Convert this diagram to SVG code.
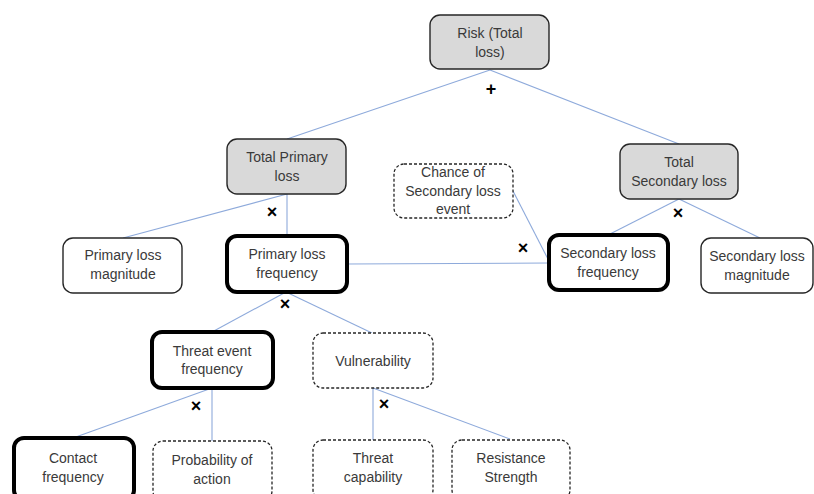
<svg xmlns="http://www.w3.org/2000/svg" width="814" height="494" viewBox="0 0 814 494">
  <style>
    .box rect { fill: #ffffff; stroke: #262626; stroke-width: 1.4; }
    .grey rect { fill: #d9d9d9; }
    .bold rect { stroke: #000000; stroke-width: 4; }
    .dash rect { stroke-dasharray: 3 2; stroke-width: 1.3; }
    text { font-family: "Liberation Sans", Arial, sans-serif; font-size: 14px; fill: #3a3a3a; text-anchor: middle; }
    .op { font-size: 18px; font-weight: bold; fill: #000000; }
    #connectors line { stroke: #8eaadb; stroke-width: 1.1; }
  </style>

  <g id="connectors">
    <line x1="490" y1="70" x2="287" y2="139"/>
    <line x1="490" y1="70" x2="679" y2="144"/>
    <line x1="287" y1="194" x2="287" y2="236"/>
    <line x1="287" y1="194" x2="123" y2="238"/>
    <line x1="347" y1="264" x2="549" y2="263"/>
    <line x1="513" y1="191" x2="550" y2="263"/>
    <line x1="679" y1="199" x2="608" y2="235"/>
    <line x1="679" y1="199" x2="760" y2="238"/>
    <line x1="286" y1="292" x2="212" y2="332"/>
    <line x1="286" y1="292" x2="372" y2="333"/>
    <line x1="212" y1="388" x2="73" y2="438"/>
    <line x1="212" y1="388" x2="212" y2="441"/>
    <line x1="373" y1="388" x2="373" y2="440"/>
    <line x1="373" y1="388" x2="510" y2="439"/>
  </g>

  <g id="operators">
    <text class="op" x="491" y="95">+</text>
    <text class="op" x="272" y="218">×</text>
    <text class="op" x="285" y="310">×</text>
    <text class="op" x="523" y="254">×</text>
    <text class="op" x="678" y="219">×</text>
    <text class="op" x="196" y="412">×</text>
    <text class="op" x="384" y="410">×</text>
  </g>

  <g id="risk" class="box grey">
    <rect x="430" y="15" width="119" height="54" rx="10"/>
    <text x="490" y="38">Risk (Total</text>
    <text x="490" y="57">loss)</text>
  </g>

  <g id="total-primary-loss" class="box grey">
    <rect x="227" y="139" width="119" height="55" rx="10"/>
    <text x="287" y="162">Total Primary</text>
    <text x="287" y="181">loss</text>
  </g>

  <g id="total-secondary-loss" class="box grey">
    <rect x="620" y="144" width="118" height="55" rx="10"/>
    <text x="679" y="167">Total</text>
    <text x="679" y="186">Secondary loss</text>
  </g>

  <g id="chance-secondary-loss" class="box dash">
    <rect x="394" y="164" width="119" height="54" rx="10"/>
    <text x="453" y="177">Chance of</text>
    <text x="453" y="196">Secondary loss</text>
    <text x="453" y="214">event</text>
  </g>

  <g id="primary-loss-magnitude" class="box">
    <rect x="63" y="238" width="119" height="55" rx="10"/>
    <text x="123" y="260">Primary loss</text>
    <text x="123" y="279">magnitude</text>
  </g>

  <g id="primary-loss-frequency" class="box bold">
    <rect x="227" y="236" width="120" height="56" rx="10"/>
    <text x="287" y="259">Primary loss</text>
    <text x="287" y="278">frequency</text>
  </g>

  <g id="secondary-loss-frequency" class="box bold">
    <rect x="549" y="235" width="119" height="55" rx="10"/>
    <text x="608" y="258">Secondary loss</text>
    <text x="608" y="277">frequency</text>
  </g>

  <g id="secondary-loss-magnitude" class="box">
    <rect x="701" y="238" width="112" height="55" rx="10"/>
    <text x="757" y="261">Secondary loss</text>
    <text x="757" y="280">magnitude</text>
  </g>

  <g id="threat-event-frequency" class="box bold">
    <rect x="152" y="332" width="121" height="56" rx="10"/>
    <text x="212" y="356">Threat event</text>
    <text x="212" y="374">frequency</text>
  </g>

  <g id="vulnerability" class="box dash">
    <rect x="313" y="333" width="120" height="55" rx="10"/>
    <text x="373" y="366">Vulnerability</text>
  </g>

  <g id="contact-frequency" class="box bold">
    <rect x="14" y="438" width="120" height="62" rx="10"/>
    <text x="73" y="463">Contact</text>
    <text x="73" y="482">frequency</text>
  </g>

  <g id="probability-of-action" class="box dash">
    <rect x="153" y="441" width="119" height="60" rx="10"/>
    <text x="212" y="465">Probability of</text>
    <text x="212" y="484">action</text>
  </g>

  <g id="threat-capability" class="box dash">
    <rect x="313" y="440" width="120" height="60" rx="10"/>
    <text x="373" y="463">Threat</text>
    <text x="373" y="482">capability</text>
  </g>

  <g id="resistance-strength" class="box dash">
    <rect x="452" y="440" width="118" height="60" rx="10"/>
    <text x="511" y="463">Resistance</text>
    <text x="511" y="482">Strength</text>
  </g>
</svg>
